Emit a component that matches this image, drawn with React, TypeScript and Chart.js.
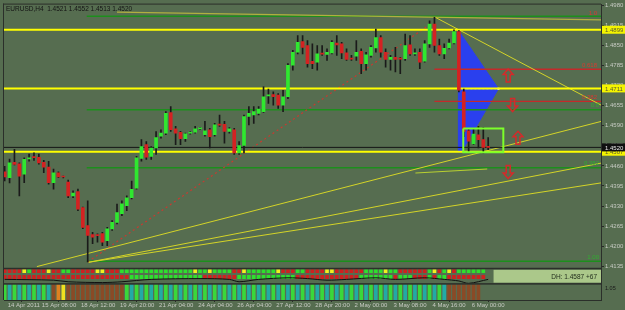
import React, { useEffect, useRef } from "react";
import { Chart, registerables } from "chart.js";

Chart.register(...registerables);

const TITLE = "EURUSD,H4  1.4521 1.4552 1.4513 1.4520";

const OPEN = [1.4441,1.4422,1.4472,1.4467,1.4433,1.4483,1.4488,1.4488,1.4472,1.4456,1.4406,1.4438,1.4425,1.4408,1.4363,1.4377,1.4325,1.4267,1.4238,1.4235,1.4241,1.4218,1.4256,1.4277,1.4305,1.4331,1.4357,1.4388,1.4484,1.4529,1.4491,1.4518,1.4556,1.4566,1.4633,1.4580,1.4569,1.4548,1.4566,1.4569,1.4580,1.4561,1.4577,1.4561,1.4593,1.4595,1.4572,1.4577,1.4502,1.4526,1.4620,1.4625,1.4630,1.4636,1.4687,1.4691,1.4689,1.4657,1.4684,1.4786,1.4828,1.4863,1.4850,1.4799,1.4796,1.4823,1.4821,1.4826,1.4858,1.4855,1.4826,1.4807,1.4815,1.4831,1.4791,1.4818,1.4842,1.4876,1.4828,1.4805,1.4812,1.4807,1.4807,1.4852,1.4823,1.4828,1.4799,1.4855,1.4919,1.4850,1.4823,1.4842,1.4858,1.4895,1.4700,1.4574,1.4531,1.4561,1.4545,1.4521];
const HIGH = [1.4459,1.4482,1.4514,1.4470,1.4486,1.4498,1.4502,1.4498,1.4478,1.4475,1.4450,1.4441,1.4427,1.4414,1.4379,1.4385,1.4327,1.4347,1.4245,1.4240,1.4245,1.4261,1.4283,1.4336,1.4347,1.4363,1.4411,1.4491,1.4545,1.4539,1.4523,1.4571,1.4577,1.4636,1.4652,1.4588,1.4572,1.4566,1.4572,1.4588,1.4585,1.4604,1.4582,1.4598,1.4625,1.4604,1.4584,1.4582,1.4539,1.4625,1.4652,1.4652,1.4652,1.4716,1.4709,1.4700,1.4694,1.4705,1.4791,1.4834,1.4882,1.4882,1.4866,1.4855,1.4850,1.4850,1.4839,1.4866,1.4882,1.4860,1.4839,1.4818,1.4866,1.4839,1.4828,1.4850,1.4903,1.4882,1.4839,1.4818,1.4844,1.4812,1.4887,1.4882,1.4839,1.4839,1.4866,1.4930,1.4941,1.4871,1.4855,1.4871,1.4901,1.4898,1.4709,1.4582,1.4582,1.4588,1.4584,1.4552];
const LOW = [1.4411,1.4405,1.4463,1.4363,1.4406,1.4475,1.4478,1.4466,1.4438,1.4401,1.4385,1.4422,1.4421,1.4357,1.4357,1.4315,1.4257,1.4149,1.4208,1.4213,1.4202,1.4202,1.4251,1.4272,1.4299,1.4315,1.4353,1.4385,1.4475,1.4481,1.4481,1.4497,1.4550,1.4561,1.4572,1.4529,1.4529,1.4539,1.4563,1.4566,1.4577,1.4556,1.4518,1.4556,1.4588,1.4534,1.4566,1.4497,1.4497,1.4502,1.4593,1.4598,1.4625,1.4633,1.4662,1.4657,1.4646,1.4636,1.4678,1.4770,1.4823,1.4823,1.4780,1.4775,1.4770,1.4818,1.4802,1.4823,1.4818,1.4807,1.4802,1.4802,1.4802,1.4759,1.4770,1.4812,1.4828,1.4812,1.4780,1.4770,1.4764,1.4759,1.4802,1.4818,1.4818,1.4775,1.4796,1.4844,1.4828,1.4818,1.4807,1.4839,1.4855,1.4700,1.4555,1.4507,1.4529,1.4518,1.4502,1.4513];
const CLOSE = [1.4424,1.4470,1.4465,1.4427,1.4481,1.4484,1.4487,1.4470,1.4456,1.4406,1.4438,1.4424,1.4424,1.4363,1.4372,1.4320,1.4261,1.4235,1.4229,1.4234,1.4213,1.4256,1.4277,1.4309,1.4337,1.4357,1.4384,1.4486,1.4523,1.4488,1.4518,1.4552,1.4566,1.4630,1.4577,1.4566,1.4548,1.4564,1.4567,1.4580,1.4581,1.4574,1.4555,1.4593,1.4592,1.4572,1.4580,1.4502,1.4526,1.4620,1.4630,1.4636,1.4644,1.4684,1.4688,1.4684,1.4657,1.4684,1.4786,1.4828,1.4860,1.4844,1.4791,1.4791,1.4823,1.4822,1.4828,1.4860,1.4852,1.4826,1.4805,1.4806,1.4828,1.4791,1.4820,1.4844,1.4876,1.4828,1.4805,1.4812,1.4805,1.4806,1.4850,1.4823,1.4824,1.4796,1.4855,1.4919,1.4850,1.4823,1.4841,1.4858,1.4895,1.4705,1.4572,1.4540,1.4563,1.4545,1.4520,1.4520];

const TIME_TICK_INDEX = [0, 7, 15, 23, 31, 39, 47, 55, 63, 71, 79, 87, 95];
const TIME_TICK_LABELS = ["14 Apr 2011", "15 Apr 08:00", "18 Apr 12:00", "19 Apr 20:00", "21 Apr 04:00", "24 Apr 04:00", "26 Apr 04:00", "27 Apr 12:00", "28 Apr 20:00", "2 May 00:00", "3 May 08:00", "4 May 16:00", "6 May 00:00"];
const PRICE_TICKS = [1.4135, 1.42, 1.4265, 1.433, 1.4395, 1.446, 1.4525, 1.459, 1.4655, 1.472, 1.4785, 1.485, 1.4915, 1.498];
const PRICE_MIN = 1.41285;
const PRICE_MAX = 1.49824;
const X_MIN = -0.14;
const X_MAX = 122.1;

const YELLOW_LEVELS = [1.4901, 1.4711, 1.4506];
const YELLOW_LEVEL_LABELS = ["1.4899", "1.4711", "1.4507"];
const BID = 1.452;
const BID_LABEL = "1.4520";

const GREEN_FIB_START = 16.8;
const GREEN_FIB_LEVELS = [1.4945, 1.4642, 1.4454, 1.4151];
const GREEN_FIB_LABELS = ["", "0.0", "0.382", "1.00"];
const RED_FIB_START = 88;
const RED_FIB_LEVELS = [1.4942, 1.4773, 1.4669];
const RED_FIB_LABELS = ["1.0", "0.618", "0.382"];

const OLIVE_LINE = [[23, 1.4958], [122.1, 1.4933]];
const FALL_LINE = [[88.2, 1.4941], [122.1, 1.4657]];
const RED_DOTTED = [[17, 1.4149], [86.7, 1.4914]];
const RISE_A = [[6.6, 1.4134], [122.1, 1.4604]];
const RISE_B = [[17.2, 1.4148], [122.1, 1.4469]];
const RISE_C = [[17.2, 1.4148], [122.1, 1.4405]];
const SHORT_SEG = [[84.1, 1.4437], [98.8, 1.445]];

const BLUE_SHAPE = [[92.9, 1.4899], [101.1, 1.471], [93.6, 1.4507], [92.9, 1.4507], [92.9, 1.4899]];
const BLUE_MID = [[92.9, 1.471], [101.1, 1.471]];
const GREEN_BOX = [[93.9, 1.4581], [102.1, 1.4581], [102.1, 1.4504], [93.9, 1.4504], [93.9, 1.4581]];

const ARROW_X = [103.1, 104.0, 105.1, 103.1];
const ARROW_P = [1.4753, 1.4657, 1.4551, 1.444];
const ARROW_DIR = ["up", "down", "up", "down"];

const PANEL1_ROW1 = "rrrrygrrryrrggrrrrryyrrrgggggggggggggggyggyggggrryggggggyrrrggrrrryyrrrrrrggggyggrrrrrrgyrgyrgggggg";
const PANEL1_ROW2 = "rrrrrrrrrrrrrrrrrrrrrrrrrrgggggggggggggggrrrrrrrggggggggggggrrrrrrrrrrrrrgggggggrgggrrrgrggrrrrrrrr";
const PANEL1_LINE_X = [0, 10, 13, 20, 24, 30, 40, 46, 48, 52, 58, 62, 66, 70, 76, 80, 86, 90, 93, 95, 99];
const PANEL1_LINE_Y = [0.3, 0.25, 0.15, 0.1, 0.15, 0.3, 0.35, 0.3, 0.15, 0.3, 0.4, 0.35, 0.25, 0.3, 0.4, 0.3, 0.4, 0.3, 0.2, 0.05, 0.3];
const PANEL2_CODES = "gcgcgcgcgcboybbbbbbbbbbbbgcgcgcgcgcgcgcgcgcgcgcgcgcgcgcgcgcgcgcgcgcgcgcgcgcgcgcgcgcgcgcgcgcbbbbbbb";
const DH_TEXT = "DH: 1.4587 +67";
const DH_START = 100.1;

const BG = "#566d50";
const FONT = "'Liberation Sans', Arial, sans-serif";
const AXIS_TEXT = "#c8cbc4";

const pts = (arr: number[][]) => arr.map(([x, y]) => ({ x, y }));

function lineDs(data: number[][], color: string, width: number, order: number, dash: number[] = []) {
  return {
    type: "line",
    data: pts(data),
    borderColor: color,
    borderWidth: width,
    borderDash: dash,
    pointRadius: 0,
    fill: false,
    tension: 0,
    order,
    yAxisID: "y",
  };
}

const mtPlugin = {
  id: "mt",
  beforeDraw(chart: any) {
    const { ctx, width, height } = chart;
    ctx.save();
    ctx.fillStyle = BG;
    ctx.fillRect(0, 0, width, height);
    ctx.restore();
  },
  afterDraw(chart: any) {
    const { ctx, chartArea: ca, scales } = chart;
    const xs = scales.x, ys = scales.y, y1 = scales.y1, y2 = scales.y2;
    ctx.save();
    const dx = xs.getPixelForValue(DH_START);
    ctx.fillStyle = "#abc88a";
    ctx.fillRect(dx, y1.top + 1.5, ca.right - dx, y1.bottom - y1.top - 3);
    ctx.fillStyle = "#1f2a1a";
    ctx.font = "6.5px " + FONT;
    ctx.textAlign = "right";
    ctx.textBaseline = "middle";
    ctx.fillText(DH_TEXT, ca.right - 4, (y1.top + y1.bottom) / 2 + 1);

    ctx.fillStyle = "#2b2f2a";
    ctx.fillRect(ca.left - 1, ca.top - 1, ca.right - ca.left + 1, 1);
    ctx.fillRect(ca.left - 1, ca.top - 1, 1, ca.bottom - ca.top + 1);
    ctx.fillRect(ca.left, y1.top - 0.5, ca.right - ca.left, 1.5);
    ctx.fillRect(ca.left, y2.top - 1, ca.right - ca.left, 1.5);

    ctx.font = "6px " + FONT;
    ctx.textAlign = "right";
    ctx.textBaseline = "bottom";
    ctx.fillStyle = "#d83a30";
    RED_FIB_LEVELS.forEach((lv, i) => ctx.fillText(RED_FIB_LABELS[i], ca.right - 4, ys.getPixelForValue(lv) - 1));
    ctx.fillStyle = "#2fb02f";
    GREEN_FIB_LEVELS.forEach((lv, i) => ctx.fillText(GREEN_FIB_LABELS[i], ca.right - 2, ys.getPixelForValue(lv) - 1));

    ctx.strokeStyle = "#d42a2a";
    ctx.lineWidth = 1.5;
    ARROW_X.forEach((ax, i) => {
      const cx = xs.getPixelForValue(ax);
      const cy = ys.getPixelForValue(ARROW_P[i]);
      const s = ARROW_DIR[i] === "up" ? 1 : -1;
      ctx.beginPath();
      ctx.moveTo(cx, cy - 6.5 * s);
      ctx.lineTo(cx + 5, cy - 1 * s);
      ctx.lineTo(cx + 2, cy - 1 * s);
      ctx.lineTo(cx + 2, cy + 6.5 * s);
      ctx.lineTo(cx - 2, cy + 6.5 * s);
      ctx.lineTo(cx - 2, cy - 1 * s);
      ctx.lineTo(cx - 5, cy - 1 * s);
      ctx.closePath();
      ctx.stroke();
    });

    ctx.font = "6px " + FONT;
    ctx.textAlign = "left";
    ctx.textBaseline = "middle";
    YELLOW_LEVELS.forEach((lv, i) => {
      const py = ys.getPixelForValue(lv);
      ctx.fillStyle = "#f4f400";
      ctx.fillRect(ca.right + 1, py - 4, 30, 8);
      ctx.fillStyle = "#5a5a30";
      ctx.fillText(YELLOW_LEVEL_LABELS[i], ca.right + 4, py + 0.5);
    });
    const by = ys.getPixelForValue(BID);
    ctx.fillStyle = "#101010";
    ctx.fillRect(ca.right + 1, by - 4, 30, 8);
    ctx.fillStyle = "#e8e8e8";
    ctx.fillText(BID_LABEL, ca.right + 4, by + 0.5);

    ctx.fillStyle = "#141414";
    ctx.font = "6.5px " + FONT;
    ctx.textBaseline = "top";
    ctx.fillText(TITLE, ca.left + 2, ca.top + 1);

    ctx.fillStyle = "#1a1a1a";
    ctx.font = "5.5px " + FONT;
    ctx.fillText("1.05", ca.right + 4, y2.top + 2);
    ctx.restore();
  },
};

export default function App() {
  const ref = useRef<HTMLCanvasElement | null>(null);
  useEffect(() => {
    const canvas = ref.current;
    if (!canvas) return;
    const idx = OPEN.map((_, i) => i);
    const wickData = idx.map((i) => ({ x: i, y: [LOW[i], HIGH[i]] }));
    const bodyData = idx.map((i) => ({ x: i, y: [Math.min(OPEN[i], CLOSE[i]), Math.max(OPEN[i], CLOSE[i])] }));
    const bodyColors = idx.map((i) => (CLOSE[i] > OPEN[i] ? "#2fe82f" : CLOSE[i] < OPEN[i] ? "#d42222" : "#1c1c1c"));
    const colMap: Record<string, string> = { r: "#cf2020", g: "#2ee02e", y: "#f0f020" };
    const p2Map: Record<string, string> = { g: "#3ad83a", c: "#22aaa6", b: "#8a4a26", o: "#e08020", y: "#f0e020" };

    const datasets: any[] = [
      {
        type: "line",
        data: pts(BLUE_SHAPE),
        borderColor: "#2a40ee",
        backgroundColor: "#2a40ee",
        borderWidth: 1,
        pointRadius: 0,
        fill: "shape",
        tension: 0,
        order: 30,
        yAxisID: "y",
      },
      {
        type: "line",
        data: pts(BLUE_MID),
        borderColor: "#aab8ff",
        borderWidth: 1,
        borderDash: [2, 2],
        pointRadius: 1.5,
        pointStyle: "rect",
        pointBackgroundColor: "#ffffff",
        pointBorderWidth: 0,
        fill: false,
        order: 29,
        yAxisID: "y",
      },
      ...GREEN_FIB_LEVELS.map((lv) => lineDs([[GREEN_FIB_START, lv], [X_MAX, lv]], "#1c8f1c", 1.5, 25)),
      ...RED_FIB_LEVELS.slice(1).map((lv) => lineDs([[RED_FIB_START, lv], [X_MAX, lv]], "#c42a2a", 1.3, 25)),
      lineDs(OLIVE_LINE, "#b0b040", 1.2, 24),
      lineDs(RED_DOTTED, "#c83a30", 1.2, 24, [2, 3]),
      lineDs(FALL_LINE, "#d4d428", 1, 22),
      lineDs(RISE_A, "#d4d428", 1, 22),
      lineDs(RISE_B, "#d4d428", 1, 22),
      lineDs(RISE_C, "#d4d428", 1, 22),
      lineDs(SHORT_SEG, "#b8d030", 1, 22),
      ...YELLOW_LEVELS.map((lv) => lineDs([[X_MIN, lv], [X_MAX, lv]], "#ffff00", 2, 20)),
      lineDs([[X_MIN, BID], [X_MAX, BID]], "#151515", 1, 19),
      {
        type: "bar",
        data: wickData,
        backgroundColor: "#1a1a1a",
        barThickness: 1,
        grouped: false,
        order: 3,
        yAxisID: "y",
      },
      {
        type: "bar",
        data: bodyData,
        backgroundColor: bodyColors,
        barThickness: 3,
        minBarLength: 1,
        grouped: false,
        order: 2,
        yAxisID: "y",
      },
      {
        type: "line",
        data: pts(GREEN_BOX),
        borderColor: "#7cff2a",
        borderWidth: 2,
        pointRadius: 0,
        fill: false,
        tension: 0,
        order: 1,
        yAxisID: "y",
      },
      {
        type: "bar",
        data: PANEL1_ROW1.split("").map((_, i) => ({ x: i, y: [0.72, 0.92] })),
        backgroundColor: PANEL1_ROW1.split("").map((c) => colMap[c]),
        barThickness: 3,
        grouped: false,
        order: 5,
        yAxisID: "y1",
      },
      {
        type: "bar",
        data: PANEL1_ROW2.split("").map((_, i) => ({ x: i, y: [0.35, 0.56] })),
        backgroundColor: PANEL1_ROW2.split("").map((c) => colMap[c]),
        barThickness: 3,
        grouped: false,
        order: 5,
        yAxisID: "y1",
      },
      {
        type: "line",
        data: PANEL1_LINE_X.map((x, i) => ({ x, y: PANEL1_LINE_Y[i] })),
        borderColor: "#111111",
        borderWidth: 1,
        pointRadius: 0,
        fill: false,
        tension: 0.3,
        order: 4,
        yAxisID: "y1",
      },
      {
        type: "bar",
        data: PANEL2_CODES.split("").map((_, i) => ({ x: i, y: [0, 1] })),
        backgroundColor: PANEL2_CODES.split("").map((c) => p2Map[c]),
        barThickness: 3,
        grouped: false,
        order: 5,
        yAxisID: "y2",
      },
    ];

    const chart = new Chart(canvas, {
      type: "bar",
      data: { datasets },
      plugins: [mtPlugin],
      options: {
        responsive: false,
        animation: false,
        devicePixelRatio: 1,
        layout: { padding: { left: 2, top: 2, right: 0, bottom: 0 } },
        plugins: { legend: { display: false }, tooltip: { enabled: false } },
        scales: {
          y: {
            type: "linear",
            position: "right",
            stack: "panes",
            stackWeight: 266,
            min: PRICE_MIN,
            max: PRICE_MAX,
            afterBuildTicks: (s: any) => {
              s.ticks = PRICE_TICKS.map((v) => ({ value: v }));
            },
            afterFit: (s: any) => {
              s.width = 24;
            },
            grid: { display: true, drawOnChartArea: false, drawTicks: true, tickLength: 3, color: "#2a2a2a" },
            border: { display: true, color: "#2b2f2a", width: 1 },
            ticks: {
              padding: 1,
              color: AXIS_TEXT,
              font: { size: 6, family: FONT },
              callback: (v: any) => Number(v).toFixed(4),
            },
          },
          y1: {
            type: "linear",
            position: "right",
            stack: "panes",
            stackWeight: 16,
            min: 0,
            max: 1,
            afterFit: (s: any) => {
              s.width = 24;
            },
            grid: { display: false },
            border: { display: true, color: "#2b2f2a", width: 1 },
            ticks: { display: false },
          },
          y2: {
            type: "linear",
            position: "right",
            stack: "panes",
            stackWeight: 16,
            min: 0,
            max: 1,
            afterFit: (s: any) => {
              s.width = 24;
            },
            grid: { display: false },
            border: { display: true, color: "#2b2f2a", width: 1 },
            ticks: { display: false },
          },
          x: {
            type: "linear",
            position: "bottom",
            min: X_MIN,
            max: X_MAX,
            offset: false,
            afterBuildTicks: (s: any) => {
              s.ticks = TIME_TICK_INDEX.map((v) => ({ value: v }));
            },
            afterFit: (s: any) => {
              s.height = 10;
            },
            grid: { display: true, drawOnChartArea: false, drawTicks: true, tickLength: 2, color: "#2a2a2a" },
            border: { display: true, color: "#2b2f2a", width: 1 },
            ticks: {
              autoSkip: false,
              maxRotation: 0,
              align: "start",
              labelOffset: 3,
              padding: 0,
              color: AXIS_TEXT,
              font: { size: 6, family: FONT },
              callback: (_v: any, i: number) => TIME_TICK_LABELS[i],
            },
          },
        },
      } as any,
    } as any);
    return () => chart.destroy();
  }, []);

  return (
    <div style={{ position: "absolute", left: 0, top: 0, width: 625, height: 310 }}>
      <canvas ref={ref} width={625} height={310} style={{ display: "block" }} />
    </div>
  );
}
